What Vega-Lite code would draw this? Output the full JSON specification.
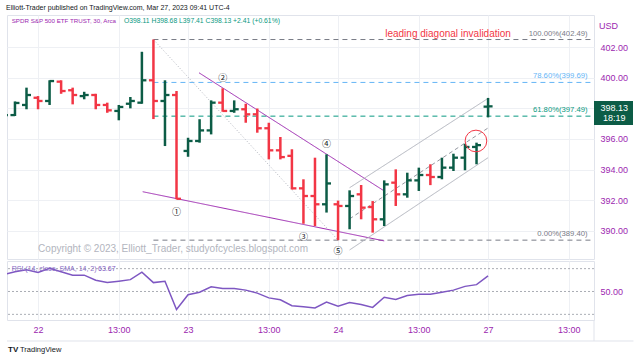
{
  "$schema": "https://vega.github.io/schema/vega-lite/v6.json",
  "background": "white",
  "padding": {"left": 6, "top": 3, "right": 2, "bottom": 2},
  "title": {"text": "Elliott-Trader published on TradingView.com, Mar 27, 2023 09:41 UTC-4", "anchor": "start", "fontSize": 7, "fontWeight": "normal", "color": "#131722", "font": "Liberation Sans", "offset": 4},
  "config": {
    "view": {"stroke": "#e0e3eb", "strokeWidth": 1},
    "font": "Liberation Sans",
    "axis": {"domain": false, "ticks": false, "gridColor": "#eef0f4", "gridWidth": 1, "labelColor": "#9c27b0", "labelFontSize": 9, "labelFont": "Liberation Sans"}
  },
  "datasets": {
    "bars": [
      {"i": -3, "o": 397.50, "h": 397.80, "l": 397.30, "c": 397.56},
      {"i": -2, "o": 397.56, "h": 398.45, "l": 397.50, "c": 398.35},
      {"i": -1, "o": 398.22, "h": 399.35, "l": 397.94, "c": 398.87},
      {"i": 0, "o": 398.69, "h": 398.80, "l": 397.94, "c": 398.48},
      {"i": 1, "o": 398.48, "h": 399.83, "l": 398.22, "c": 399.78},
      {"i": 2, "o": 399.74, "h": 399.83, "l": 398.95, "c": 399.13},
      {"i": 3, "o": 399.18, "h": 399.35, "l": 398.26, "c": 398.87},
      {"i": 4, "o": 398.80, "h": 399.08, "l": 398.59, "c": 398.87},
      {"i": 5, "o": 398.87, "h": 398.95, "l": 397.94, "c": 398.22},
      {"i": 6, "o": 398.22, "h": 398.37, "l": 397.71, "c": 397.87},
      {"i": 7, "o": 397.83, "h": 398.22, "l": 397.22, "c": 398.09},
      {"i": 8, "o": 398.30, "h": 398.74, "l": 398.00, "c": 398.48},
      {"i": 9, "o": 398.37, "h": 401.69, "l": 398.30, "c": 399.83},
      {"i": 10, "o": 399.83, "h": 402.49, "l": 397.30, "c": 398.48},
      {"i": 11, "o": 398.48, "h": 399.83, "l": 395.54, "c": 398.87},
      {"i": 12, "o": 398.87, "h": 399.13, "l": 392.07, "c": 392.10},
      {"i": 13, "o": 395.22, "h": 396.08, "l": 394.84, "c": 395.87},
      {"i": 14, "o": 395.87, "h": 397.29, "l": 395.76, "c": 396.56},
      {"i": 15, "o": 396.56, "h": 398.52, "l": 396.30, "c": 398.37},
      {"i": 16, "o": 398.37, "h": 399.31, "l": 397.78, "c": 397.83},
      {"i": 17, "o": 397.83, "h": 398.52, "l": 397.71, "c": 397.94},
      {"i": 18, "o": 397.94, "h": 398.30, "l": 397.06, "c": 397.61},
      {"i": 19, "o": 397.61, "h": 397.99, "l": 396.41, "c": 396.70},
      {"i": 20, "o": 396.70, "h": 397.06, "l": 394.67, "c": 395.26},
      {"i": 21, "o": 395.26, "h": 396.13, "l": 394.67, "c": 394.82},
      {"i": 22, "o": 394.90, "h": 395.33, "l": 392.71, "c": 392.78},
      {"i": 23, "o": 392.78, "h": 393.37, "l": 390.47, "c": 392.28},
      {"i": 24, "o": 392.28, "h": 394.78, "l": 390.32, "c": 391.74},
      {"i": 25, "o": 391.74, "h": 395.00, "l": 391.20, "c": 393.10},
      {"i": 26, "o": 391.74, "h": 391.98, "l": 389.40, "c": 391.63},
      {"i": 27, "o": 391.63, "h": 392.65, "l": 390.11, "c": 392.28},
      {"i": 28, "o": 392.39, "h": 393.00, "l": 390.76, "c": 391.52},
      {"i": 29, "o": 391.56, "h": 391.95, "l": 389.89, "c": 390.76},
      {"i": 30, "o": 390.76, "h": 393.30, "l": 390.32, "c": 393.04},
      {"i": 31, "o": 393.15, "h": 394.02, "l": 391.63, "c": 392.39},
      {"i": 32, "o": 392.39, "h": 393.80, "l": 392.17, "c": 393.30},
      {"i": 33, "o": 393.30, "h": 394.13, "l": 392.61, "c": 393.65},
      {"i": 34, "o": 393.65, "h": 394.35, "l": 392.99, "c": 393.52},
      {"i": 35, "o": 393.52, "h": 394.78, "l": 393.37, "c": 394.13},
      {"i": 36, "o": 394.13, "h": 395.04, "l": 393.91, "c": 394.78},
      {"i": 37, "o": 394.78, "h": 395.69, "l": 393.96, "c": 395.48},
      {"i": 38, "o": 395.48, "h": 395.76, "l": 394.35, "c": 395.60},
      {"i": 39, "o": 398.11, "h": 398.68, "l": 397.41, "c": 398.13}
    ],
    "rsi": [
      {"i": -3, "v": 64.7}, {"i": -2, "v": 67.3}, {"i": -1, "v": 69.1}, {"i": 0, "v": 66.7},
      {"i": 1, "v": 70.3}, {"i": 2, "v": 67.3}, {"i": 3, "v": 64.3}, {"i": 4, "v": 64.3},
      {"i": 5, "v": 59.9}, {"i": 6, "v": 57.8}, {"i": 7, "v": 59.0}, {"i": 8, "v": 60.4},
      {"i": 9, "v": 67.0}, {"i": 10, "v": 57.8}, {"i": 11, "v": 59.0}, {"i": 12, "v": 34.2},
      {"i": 13, "v": 47.2}, {"i": 14, "v": 49.4}, {"i": 15, "v": 54.2}, {"i": 16, "v": 52.7},
      {"i": 17, "v": 52.7}, {"i": 18, "v": 51.2}, {"i": 19, "v": 48.6}, {"i": 20, "v": 44.4},
      {"i": 21, "v": 42.8}, {"i": 22, "v": 37.5}, {"i": 23, "v": 36.7}, {"i": 24, "v": 35.6},
      {"i": 25, "v": 40.8}, {"i": 26, "v": 37.2}, {"i": 27, "v": 40.3}, {"i": 28, "v": 38.6},
      {"i": 29, "v": 36.1}, {"i": 30, "v": 45.0}, {"i": 31, "v": 43.1}, {"i": 32, "v": 46.4},
      {"i": 33, "v": 47.5}, {"i": 34, "v": 47.5}, {"i": 35, "v": 49.4}, {"i": 36, "v": 51.2},
      {"i": 37, "v": 54.5}, {"i": 38, "v": 56.0}, {"i": 39, "v": 63.67}
    ],
    "fib": [
      {"lvl": "100", "p": 402.49, "lab": "100.00%(402.49)"},
      {"lvl": "78.6", "p": 399.69, "lab": "78.60%(399.69)"},
      {"lvl": "61.8", "p": 397.49, "lab": "61.80%(397.49)"},
      {"lvl": "0", "p": 389.40, "lab": "0.00%(389.40)"}
    ],
    "segs": [
      {"k": "fibdiag", "x1": 10, "y1": 402.49, "x2": 26, "y2": 389.40},
      {"k": "purple", "x1": 13.95, "y1": 400.32, "x2": 30.0, "y2": 392.61},
      {"k": "purple", "x1": 9.07, "y1": 392.56, "x2": 30.0, "y2": 389.35},
      {"k": "chan", "x1": 27.0, "y1": 392.82, "x2": 39.0, "y2": 398.65},
      {"k": "chan", "x1": 27.0, "y1": 388.76, "x2": 39.0, "y2": 394.78},
      {"k": "mid", "x1": 27.0, "y1": 390.79, "x2": 39.0, "y2": 396.72}
    ],
    "waves": [
      {"t": "①", "i": 12, "p": 391.24},
      {"t": "②", "i": 16, "p": 399.98},
      {"t": "③", "i": 23, "p": 389.61},
      {"t": "④", "i": 25, "p": 395.67},
      {"t": "⑤", "i": 26, "p": 388.69}
    ]
  },
  "spacing": 0,
  "vconcat": [
    {
      "width": 587,
      "height": 244,
      "layer": [
        {
          "data": {"values": [{"i": 11.7, "p": 388.82, "t": "Copyright © 2023, Elliott_Trader, studyofcycles.blogspot.com"}]},
          "mark": {"type": "text", "fontSize": 10, "color": "#b2b5be", "align": "center", "baseline": "middle"},
          "encoding": {
            "x": {"field": "i", "type": "quantitative", "title": null,
                  "scale": {"domain": [-2.69, 48.18], "nice": false, "zero": false},
                  "axis": {"values": [0, 7, 13, 20, 26, 33, 39, 46], "labels": false, "grid": true, "domain": false, "ticks": false}},
            "y": {"field": "p", "type": "quantitative", "title": null,
                  "scale": {"domain": [388.17, 404.09], "nice": false, "zero": false},
                  "axis": {"orient": "right", "values": [390, 392, 394, 396, 398, 400, 402], "format": ".2f", "grid": true, "labelPadding": 6}},
            "text": {"field": "t"}
          }
        },
        {
          "data": {"name": "fib"},
          "mark": {"type": "rule", "strokeDash": [5, 4], "strokeWidth": 1},
          "encoding": {
            "x": {"datum": 10, "title": null},
            "x2": {"datum": 48.1},
            "y": {"field": "p", "type": "quantitative", "title": null},
            "color": {"condition": [{"test": "datum.lvl == '78.6'", "value": "#64b5f6"}, {"test": "datum.lvl == '61.8'", "value": "#089981"}], "value": "#787b86"}
          }
        },
        {
          "data": {"name": "fib"},
          "mark": {"type": "text", "align": "right", "baseline": "bottom", "dy": -2, "fontSize": 7.7},
          "encoding": {
            "x": {"datum": 47.63, "title": null},
            "y": {"field": "p", "type": "quantitative", "title": null},
            "text": {"field": "lab"},
            "color": {"condition": [{"test": "datum.lvl == '78.6'", "value": "#64b5f6"}, {"test": "datum.lvl == '61.8'", "value": "#089981"}], "value": "#787b86"}
          }
        },
        {
          "data": {"name": "segs"},
          "mark": {"type": "rule", "strokeWidth": 1},
          "encoding": {
            "x": {"field": "x1", "type": "quantitative", "title": null},
            "x2": {"field": "x2"},
            "y": {"field": "y1", "type": "quantitative", "title": null},
            "y2": {"field": "y2"},
            "color": {"condition": [{"test": "datum.k == 'purple'", "value": "#9c27b0"}, {"test": "datum.k == 'mid'", "value": "#9598a1"}], "value": "#b2b5be"},
            "strokeDash": {"condition": [{"test": "datum.k == 'mid'", "value": [4, 3]}, {"test": "datum.k == 'fibdiag'", "value": [1, 2]}], "value": [1, 0]}
          }
        },
        {
          "data": {"name": "bars"},
          "mark": {"type": "rule", "strokeWidth": 2.5, "clip": true},
          "encoding": {
            "x": {"field": "i", "type": "quantitative", "title": null},
            "y": {"field": "l", "type": "quantitative", "title": null},
            "y2": {"field": "h"},
            "color": {"condition": {"test": "datum.c >= datum.o", "value": "#0c5c46"}, "value": "#f23645"}
          }
        },
        {
          "data": {"name": "bars"},
          "mark": {"type": "rule", "strokeWidth": 2.3, "x2Offset": -4.5, "clip": true},
          "encoding": {
            "x": {"field": "i", "type": "quantitative", "title": null},
            "x2": {"field": "i"},
            "y": {"field": "o", "type": "quantitative", "title": null},
            "color": {"condition": {"test": "datum.c >= datum.o", "value": "#0c5c46"}, "value": "#f23645"}
          }
        },
        {
          "data": {"name": "bars"},
          "mark": {"type": "rule", "strokeWidth": 2.3, "x2Offset": 4.5, "clip": true},
          "encoding": {
            "x": {"field": "i", "type": "quantitative", "title": null},
            "x2": {"field": "i"},
            "y": {"field": "c", "type": "quantitative", "title": null},
            "color": {"condition": {"test": "datum.c >= datum.o", "value": "#0c5c46"}, "value": "#f23645"}
          }
        },
        {
          "data": {"name": "waves"},
          "mark": {"type": "text", "font": "Noto Sans CJK SC", "fontSize": 9, "color": "#131722", "align": "center", "baseline": "middle"},
          "encoding": {
            "x": {"field": "i", "type": "quantitative", "title": null},
            "y": {"field": "p", "type": "quantitative", "title": null},
            "text": {"field": "t"}
          }
        },
        {
          "data": {"values": [{"i": 37.95, "p": 395.87}]},
          "mark": {"type": "point", "shape": "circle", "filled": false, "size": 470, "stroke": "#f23645", "strokeWidth": 1, "opacity": 1},
          "encoding": {
            "x": {"field": "i", "type": "quantitative", "title": null},
            "y": {"field": "p", "type": "quantitative", "title": null}
          }
        },
        {
          "data": {"values": [{"i": -2.28, "p": 403.70, "t": "SPDR S&P 500 ETF TRUST, 30, Arca"}]},
          "mark": {"type": "text", "fontSize": 6.2, "color": "#9c27b0", "align": "left", "baseline": "middle"},
          "encoding": {
            "x": {"field": "i", "type": "quantitative", "title": null},
            "y": {"field": "p", "type": "quantitative", "title": null},
            "text": {"field": "t"}
          }
        },
        {
          "data": {"values": [{"i": 7.45, "p": 403.70, "t": "O398.11  H398.68  L397.41  C398.13  +2.41 (+0.61%)"}]},
          "mark": {"type": "text", "fontSize": 6.8, "color": "#089981", "align": "left", "baseline": "middle"},
          "encoding": {
            "x": {"field": "i", "type": "quantitative", "title": null},
            "y": {"field": "p", "type": "quantitative", "title": null},
            "text": {"field": "t"}
          }
        },
        {
          "data": {"values": [{"i": 35.53, "p": 402.85, "t": "leading diagonal invalidation"}]},
          "mark": {"type": "text", "fontSize": 10, "color": "#f23645", "align": "center", "baseline": "middle"},
          "encoding": {
            "x": {"field": "i", "type": "quantitative", "title": null},
            "y": {"field": "p", "type": "quantitative", "title": null},
            "text": {"field": "t"}
          }
        },
        {
          "data": {"values": [{"i": 48.61, "p": 403.37, "t": "USD"}]},
          "mark": {"type": "text", "fontSize": 9, "color": "#9c27b0", "align": "left", "baseline": "middle"},
          "encoding": {
            "x": {"field": "i", "type": "quantitative", "title": null},
            "y": {"field": "p", "type": "quantitative", "title": null},
            "text": {"field": "t"}
          }
        },
        {
          "data": {"values": [{"i0": 48.18, "i1": 51.56, "p0": 398.48, "p1": 396.91}]},
          "mark": {"type": "rect", "color": "#0c5c46"},
          "encoding": {
            "x": {"field": "i0", "type": "quantitative", "title": null},
            "x2": {"field": "i1"},
            "y": {"field": "p0", "type": "quantitative", "title": null},
            "y2": {"field": "p1"}
          }
        },
        {
          "data": {"values": [{"i": 49.94, "p": 398.0, "t": "398.13"}, {"i": 49.94, "p": 397.35, "t": "18:19"}]},
          "mark": {"type": "text", "fontSize": 9, "color": "white", "align": "center", "baseline": "middle"},
          "encoding": {
            "x": {"field": "i", "type": "quantitative", "title": null},
            "y": {"field": "p", "type": "quantitative", "title": null},
            "text": {"field": "t"}
          }
        }
      ]
    },
    {
      "width": 587,
      "height": 59,
      "layer": [
        {
          "data": {"values": [{"v": 70}, {"v": 50}, {"v": 30}]},
          "mark": {"type": "rule", "strokeDash": [2, 2], "strokeWidth": 1, "color": "#9598a1", "opacity": 0.8},
          "encoding": {
            "y": {"field": "v", "type": "quantitative", "title": null,
                  "scale": {"domain": [25.05, 76.7], "nice": false, "zero": false},
                  "axis": {"orient": "right", "values": [50], "format": ".2f", "grid": false, "labelPadding": 6}}
          }
        },
        {
          "data": {"name": "rsi"},
          "mark": {"type": "line", "color": "#7e57c2", "strokeWidth": 1.5, "clip": true},
          "encoding": {
            "x": {"field": "i", "type": "quantitative", "title": null,
                  "scale": {"domain": [-2.69, 48.18], "nice": false, "zero": false},
                  "axis": {"values": [0, 7, 13, 20, 26, 33, 39, 46], "grid": true, "labelPadding": 5,
                           "labelExpr": "datum.value == 0 ? '22' : datum.value == 13 ? '23' : datum.value == 26 ? '24' : datum.value == 39 ? '27' : '13:00'"}},
            "y": {"field": "v", "type": "quantitative", "title": null}
          }
        },
        {
          "data": {"values": [{"i": -2.28, "v": 69.7, "t": "RSI (14, close, SMA, 14, 2)"}]},
          "mark": {"type": "text", "fontSize": 7, "color": "#8a6cc6", "align": "left", "baseline": "middle"},
          "encoding": {
            "x": {"field": "i", "type": "quantitative", "title": null},
            "y": {"field": "v", "type": "quantitative", "title": null},
            "text": {"field": "t"}
          }
        },
        {
          "data": {"values": [{"i": 5.2, "v": 69.7, "t": "63.67"}]},
          "mark": {"type": "text", "fontSize": 7, "color": "#7e57c2", "align": "left", "baseline": "middle"},
          "encoding": {
            "x": {"field": "i", "type": "quantitative", "title": null},
            "y": {"field": "v", "type": "quantitative", "title": null},
            "text": {"field": "t"}
          }
        },
        {
          "data": {"values": [{"i0": -2.69, "i1": 51.6, "v": 6.67}]},
          "mark": {"type": "rule", "color": "#e0e3eb", "strokeWidth": 1},
          "encoding": {
            "x": {"field": "i0", "type": "quantitative", "title": null},
            "x2": {"field": "i1"},
            "y": {"field": "v", "type": "quantitative", "title": null}
          }
        },
        {
          "data": {"values": [{"i": 48.18, "v0": 25.05, "v1": 6.67}]},
          "mark": {"type": "rule", "color": "#e0e3eb", "strokeWidth": 1},
          "encoding": {
            "x": {"field": "i", "type": "quantitative", "title": null},
            "y": {"field": "v0", "type": "quantitative", "title": null},
            "y2": {"field": "v1"}
          }
        },
        {
          "data": {"values": [{"i": -2.6, "v": -1.2, "t": "TV"}]},
          "mark": {"type": "text", "fontSize": 8, "fontWeight": 900, "color": "#131722", "align": "left", "baseline": "middle"},
          "encoding": {
            "x": {"field": "i", "type": "quantitative", "title": null},
            "y": {"field": "v", "type": "quantitative", "title": null},
            "text": {"field": "t"}
          }
        },
        {
          "data": {"values": [{"i": -1.56, "v": -1.2, "t": "TradingView"}]},
          "mark": {"type": "text", "fontSize": 7.5, "color": "#131722", "align": "left", "baseline": "middle"},
          "encoding": {
            "x": {"field": "i", "type": "quantitative", "title": null},
            "y": {"field": "v", "type": "quantitative", "title": null},
            "text": {"field": "t"}
          }
        }
      ]
    }
  ]
}
